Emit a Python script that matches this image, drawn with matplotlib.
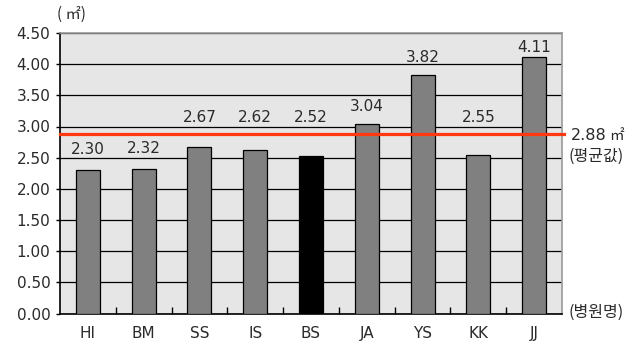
import matplotlib
matplotlib.use("Agg")
import matplotlib.pyplot as plt
import numpy as np

# Floor area per bed by hospital
hospitals = ["HI", "BM", "SS", "IS", "BS", "JA", "YS", "KK", "JJ"]
areas = [2.30, 2.32, 2.67, 2.62, 2.52, 3.04, 3.82, 2.55, 4.11]
highlight = "BS"
average = 2.88
y_ticks = [0.0, 0.5, 1.0, 1.5, 2.0, 2.5, 3.0, 3.5, 4.0, 4.5]

plt.rcParams["font.family"] = ["DejaVu Sans", "Noto Sans CJK KR"]
TXT = "#2a2a2a"
KR = ["Noto Sans CJK KR", "DejaVu Sans"]

fig = plt.figure(figsize=(6.41, 3.47), dpi=100)
ax = fig.add_axes([60 / 641, 1 - 313.5 / 347, 502 / 641, 280.5 / 347])
ax.set_facecolor("#e6e6e6")

x = np.arange(len(hospitals))
colors = ["black" if h == highlight else "#808080" for h in hospitals]
ax.set_axisbelow(True)
ax.yaxis.grid(True, color="black", linewidth=0.9)
ax.bar(x, areas, width=0.43, color=colors, edgecolor="black", linewidth=0.9, zorder=3)

# average line
ax.axhline(average, color="#ff3a10", linewidth=2.3, zorder=4, xmax=1.003, clip_on=False)

ax.set_xlim(-0.5, len(hospitals) - 0.5)
ax.set_ylim(0, 4.5)
ax.set_yticks(y_ticks)
ax.set_yticklabels([f"{v:.2f}" for v in y_ticks], fontsize=11, color=TXT)
ax.set_xticks(x)
ax.set_xticklabels(hospitals, fontsize=11, color=TXT)
ax.tick_params(axis="x", which="major", length=0, pad=9)
ax.tick_params(axis="y", which="major", length=3, width=1, direction="out", pad=4)
ax.set_xticks(np.arange(len(hospitals) - 1) + 0.5, minor=True)
ax.tick_params(axis="x", which="minor", length=5, width=1, direction="in", color="black")

for side in ("top", "right"):
    ax.spines[side].set_color("#9a9a9a")
    ax.spines[side].set_linewidth(1.2)
for side in ("left", "bottom"):
    ax.spines[side].set_color("black")
    ax.spines[side].set_linewidth(1.2)

# value labels: lifted above the average line when they would cross it
for xi, v in zip(x, areas):
    ly = v + 0.33
    if v < average and ly > average - 0.15:
        ly = average + 0.26
    elif v > average:
        ly = v + 0.28
    ly = min(ly, 4.26)
    ax.text(xi, ly, f"{v:.2f}", ha="center", va="center", fontsize=11, color=TXT, zorder=5)

ax.text(-0.005, 1.065, "( ㎡)", transform=ax.transAxes, ha="left", va="center",
        fontsize=11, color=TXT, family=KR)

trans = ax.get_yaxis_transform()
ax.text(1.018, average - 0.03, f"{average:.2f}", transform=trans, ha="left", va="center",
        fontsize=11.5, color=TXT, clip_on=False)
ax.text(1.093, average - 0.03, "㎡", transform=trans, ha="left", va="center",
        fontsize=10.5, color=TXT, clip_on=False, family=KR)
ax.text(1.012, average - 0.36, "(평균값)", transform=trans, ha="left", va="center",
        fontsize=11.5, color=TXT, clip_on=False, family=KR)
ax.text(1.012, 0.02, "(병원명)", transform=trans, ha="left", va="center",
        fontsize=11.5, color=TXT, clip_on=False, family=KR)

fig.savefig("out.png", dpi=100, facecolor="white")
